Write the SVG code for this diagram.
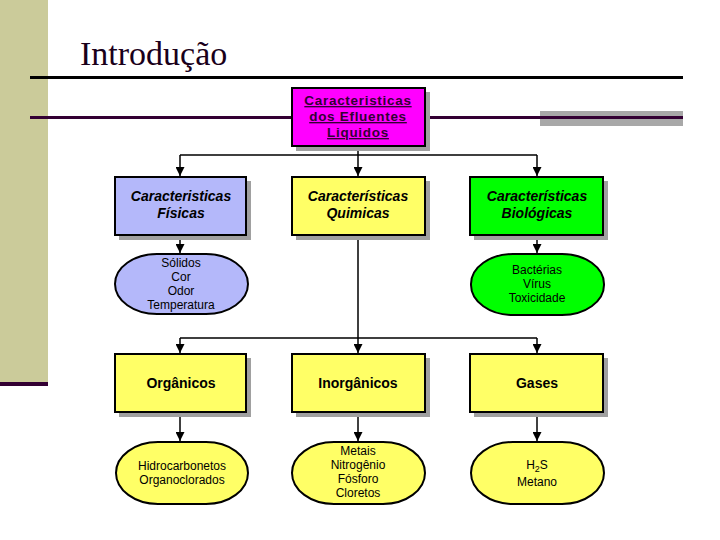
<svg xmlns="http://www.w3.org/2000/svg" width="720" height="540" viewBox="0 0 720 540">
<defs>
<style>
.box{stroke:#000;stroke-width:2}
.shadow{fill:#a0a0a0}
.conn{stroke:#000;stroke-width:1.5;fill:none}
.hdr{font-family:"Liberation Sans",Arial,sans-serif;font-weight:bold;font-size:14px;text-anchor:middle;fill:#000}
.it{font-style:italic}
.top{font-family:"Liberation Sans",Arial,sans-serif;font-weight:bold;font-size:13.5px;letter-spacing:0.7px;text-anchor:middle;fill:#330033;text-decoration:underline}
.lst{font-family:"Liberation Sans",Arial,sans-serif;font-size:12px;text-anchor:middle;fill:#000}
</style>
<marker id="arr" viewBox="0 0 10 10" refX="10" refY="5" markerWidth="10" markerHeight="9" markerUnits="userSpaceOnUse" orient="auto">
<path d="M0,0 L10,5 L0,10 z" fill="#000"/>
</marker>
</defs>
<rect x="0" y="0" width="720" height="540" fill="#fff"/>
<rect x="0" y="0" width="48" height="383" fill="#cbcb9a"/>
<rect x="0" y="382" width="48" height="4" fill="#330033"/>
<text x="80" y="65" font-family="Liberation Serif,'Times New Roman',serif" font-size="34" fill="#1a001a">Introdução</text>
<rect x="30" y="76" width="653" height="3" fill="#000"/>
<rect x="540" y="111" width="143" height="15" fill="#a8a8a8"/>
<rect x="30" y="116" width="653" height="3" fill="#330033"/>

<g id="connectors">
<path class="conn" d="M358,146 V155 M180,155 H537"/>
<path class="conn" d="M180,155 V176" marker-end="url(#arr)"/>
<path class="conn" d="M358,155 V176" marker-end="url(#arr)"/>
<path class="conn" d="M537,155 V176" marker-end="url(#arr)"/>
<path class="conn" d="M180,236 V253" marker-end="url(#arr)"/>
<path class="conn" d="M537,236 V253" marker-end="url(#arr)"/>
<path class="conn" d="M358,236 V338 M180,338 H537"/>
<path class="conn" d="M180,338 V353" marker-end="url(#arr)"/>
<path class="conn" d="M358,338 V353" marker-end="url(#arr)"/>
<path class="conn" d="M537,338 V353" marker-end="url(#arr)"/>
<path class="conn" d="M180,413 V441" marker-end="url(#arr)"/>
<path class="conn" d="M358,413 V441" marker-end="url(#arr)"/>
<path class="conn" d="M537,413 V441" marker-end="url(#arr)"/>
</g>

<g id="top">
<rect class="shadow" x="296" y="92" width="134" height="59"/>
<rect class="box" x="292" y="88" width="133" height="58" fill="#ff00ff"/>
<text class="top" x="358" y="105">Caracteristicas</text>
<text class="top" x="358" y="121">dos Efluentes</text>
<text class="top" x="358" y="137">Liquidos</text>
</g>

<g id="fisicas">
<rect class="shadow" x="119" y="181" width="132" height="59"/>
<rect class="box" x="115" y="177" width="131" height="58" fill="#b4b8fa"/>
<text class="hdr it" x="181" y="201">Caracteristicas</text>
<text class="hdr it" x="181" y="218">Físicas</text>
</g>
<g id="quimicas">
<rect class="shadow" x="296" y="181" width="134" height="59"/>
<rect class="box" x="292" y="177" width="133" height="58" fill="#ffff66"/>
<text class="hdr it" x="358" y="201">Características</text>
<text class="hdr it" x="358" y="218">Quimicas</text>
</g>
<g id="biologicas">
<rect class="shadow" x="474" y="181" width="134" height="59"/>
<rect class="box" x="470" y="177" width="133" height="58" fill="#00ff00"/>
<text class="hdr it" x="537" y="201">Características</text>
<text class="hdr it" x="537" y="218">Biológicas</text>
</g>

<g id="fisicas-list">
<rect class="box" x="115" y="254" width="133" height="60" rx="42" ry="30" fill="#b4b8fa"/>
<text class="lst" x="181" y="267">Sólidos</text>
<text class="lst" x="181" y="281">Cor</text>
<text class="lst" x="181" y="295">Odor</text>
<text class="lst" x="181" y="309">Temperatura</text>
</g>
<g id="biologicas-list">
<rect class="box" x="471" y="254" width="133" height="61" rx="42" ry="30" fill="#00ff00"/>
<text class="lst" x="537" y="274">Bactérias</text>
<text class="lst" x="537" y="288">Vírus</text>
<text class="lst" x="537" y="302">Toxicidade</text>
</g>

<g id="organicos">
<rect class="shadow" x="119" y="358" width="132" height="59"/>
<rect class="box" x="115" y="354" width="131" height="58" fill="#ffff66"/>
<text class="hdr" x="181" y="388">Orgânicos</text>
</g>
<g id="inorganicos">
<rect class="shadow" x="296" y="358" width="134" height="59"/>
<rect class="box" x="292" y="354" width="133" height="58" fill="#ffff66"/>
<text class="hdr" x="358" y="388">Inorgânicos</text>
</g>
<g id="gases">
<rect class="shadow" x="474" y="358" width="134" height="59"/>
<rect class="box" x="470" y="354" width="133" height="58" fill="#ffff66"/>
<text class="hdr" x="537" y="388">Gases</text>
</g>

<g id="organicos-list">
<rect class="box" x="116" y="442" width="132" height="62" rx="42" ry="31" fill="#ffff66"/>
<text class="lst" x="182" y="470">Hidrocarbonetos</text>
<text class="lst" x="182" y="484">Organoclorados</text>
</g>
<g id="inorganicos-list">
<rect class="box" x="292" y="442" width="133" height="62" rx="42" ry="31" fill="#ffff66"/>
<text class="lst" x="358" y="455">Metais</text>
<text class="lst" x="358" y="469">Nitrogênio</text>
<text class="lst" x="358" y="483">Fósforo</text>
<text class="lst" x="358" y="497">Cloretos</text>
</g>
<g id="gases-list">
<rect class="box" x="471" y="442" width="133" height="62" rx="42" ry="31" fill="#ffff66"/>
<text class="lst" x="537" y="469">H<tspan font-size="9" dy="3">2</tspan><tspan dy="-3">S</tspan></text>
<text class="lst" x="537" y="486">Metano</text>
</g>
</svg>
